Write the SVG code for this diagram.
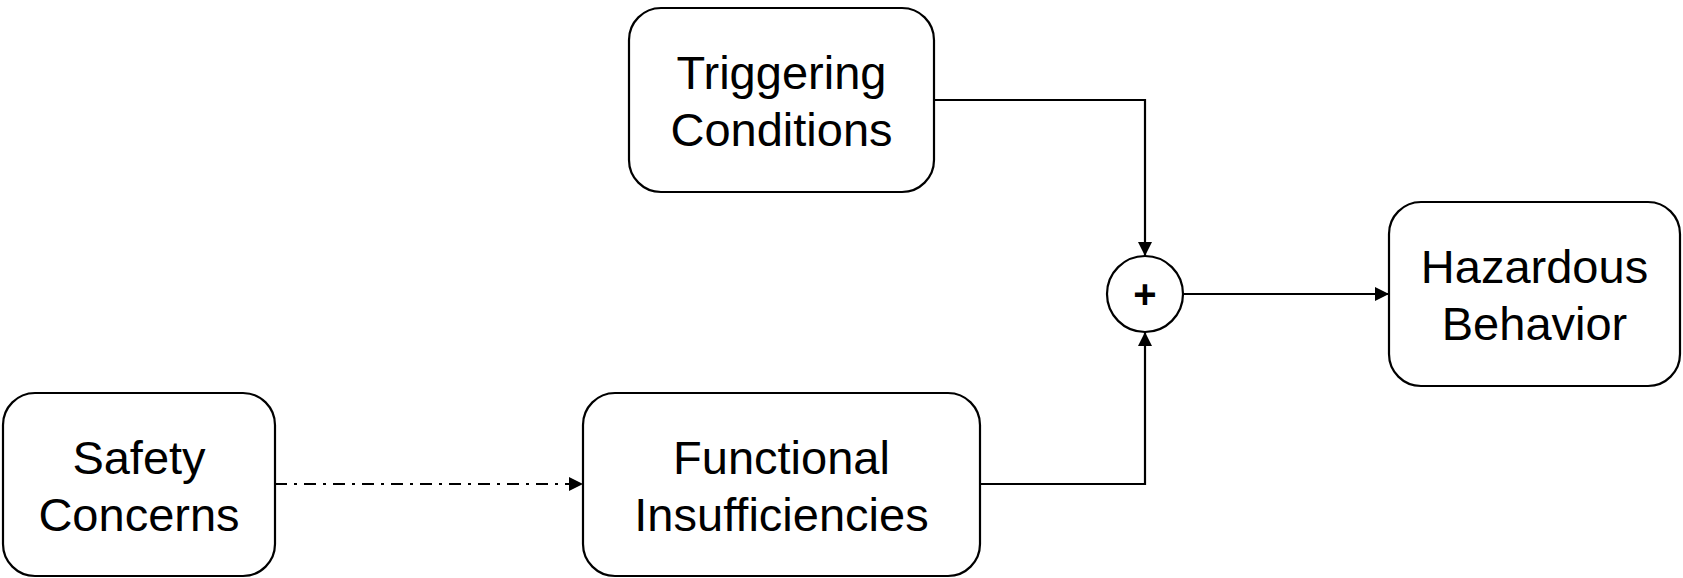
<svg xmlns="http://www.w3.org/2000/svg" width="1683" height="578" viewBox="0 0 1683 578">
  <style>
    .box { fill: #ffffff; stroke: #000000; stroke-width: 2.2; }
    .label { font-family: "Liberation Sans", Arial, sans-serif; font-size: 47px; fill: #000000; text-anchor: middle; }
    .edge { fill: none; stroke: #000000; stroke-width: 2.2; }
    .dashdot { stroke-dasharray: 12 7 3 7; }
    .op { font-family: "Liberation Sans", Arial, sans-serif; font-size: 40px; font-weight: bold; fill: #000000; text-anchor: middle; }
  </style>
  <defs>
    <marker id="arrow" markerUnits="userSpaceOnUse" markerWidth="15" markerHeight="14" refX="14" refY="7" orient="auto">
      <path d="M0,0 L14,7 L0,14 Z" fill="#000000"/>
    </marker>
  </defs>
  <rect width="1683" height="578" fill="#ffffff"/>

  <g id="connectors">
    <path class="edge" d="M934,100 H1145 V256" marker-end="url(#arrow)"/>
    <path class="edge" d="M980,484 H1145 V332" marker-end="url(#arrow)"/>
    <path class="edge" d="M1183,294 H1389" marker-end="url(#arrow)"/>
    <path class="edge dashdot" d="M275,484 H583" marker-end="url(#arrow)"/>
  </g>

  <g id="triggering-conditions">
    <rect class="box" x="629" y="8" width="305" height="184" rx="32" ry="32"/>
    <text class="label" x="781.5" y="89">Triggering</text>
    <text class="label" x="781.5" y="146">Conditions</text>
  </g>

  <g id="hazardous-behavior">
    <rect class="box" x="1389" y="202" width="291" height="184" rx="32" ry="32"/>
    <text class="label" x="1534.5" y="283">Hazardous</text>
    <text class="label" x="1534.5" y="340">Behavior</text>
  </g>

  <g id="safety-concerns">
    <rect class="box" x="3" y="393" width="272" height="183" rx="32" ry="32"/>
    <text class="label" x="139" y="474">Safety</text>
    <text class="label" x="139" y="531">Concerns</text>
  </g>

  <g id="functional-insufficiencies">
    <rect class="box" x="583" y="393" width="397" height="183" rx="32" ry="32"/>
    <text class="label" x="781.5" y="474">Functional</text>
    <text class="label" x="781.5" y="531">Insufficiencies</text>
  </g>

  <g id="sum">
    <circle class="box" cx="1145" cy="294" r="38"/>
    <text class="op" x="1145" y="308">+</text>
  </g>
</svg>
